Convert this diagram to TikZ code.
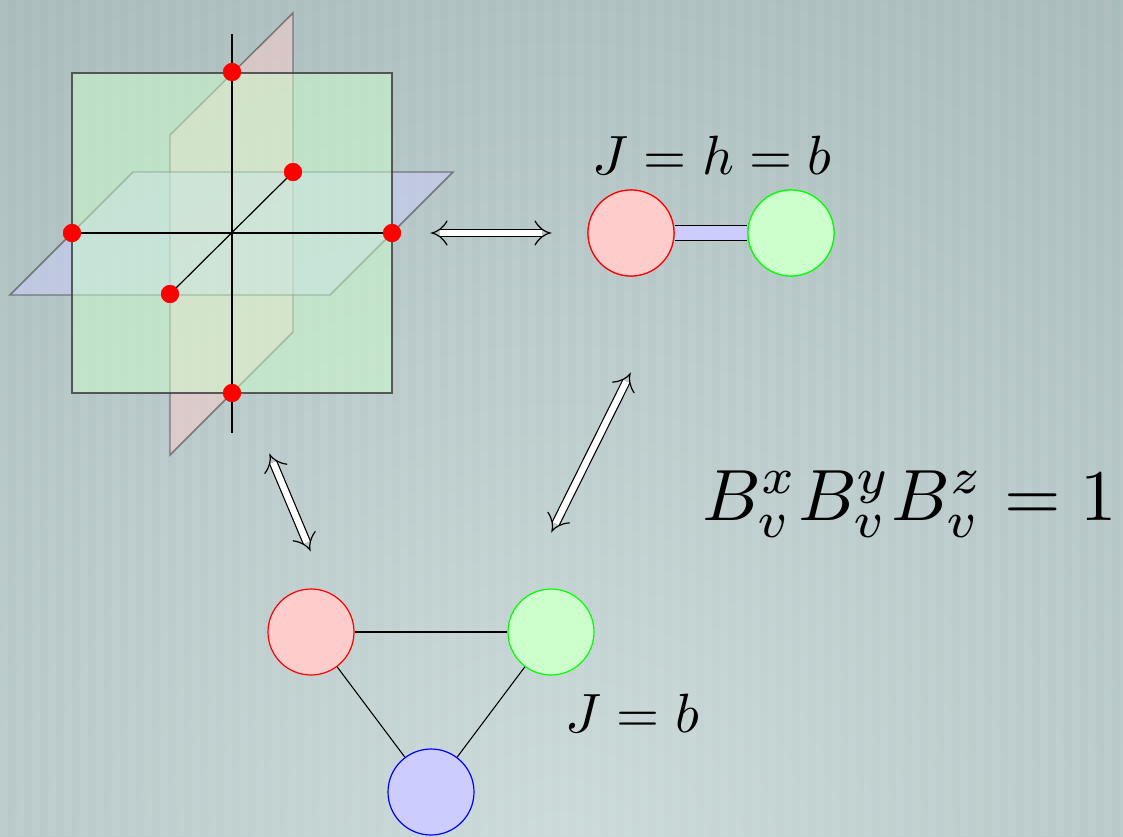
\documentclass[tikz,border=0pt]{standalone}
\usetikzlibrary{calc}
\definecolor{bgin}{RGB}{204,218,218}
\definecolor{bgout}{RGB}{136,158,158}
\pgfdeclareradialshading{bgshade}{\pgfpoint{0bp}{0bp}}{color(0bp)=(bgin); color(50bp)=(bgout)}
\tikzset{
  plane/.style={draw=black!75, draw opacity=0.6, line width=1.1pt, fill opacity=0.5},
  axis/.style={draw=black, line width=0.9pt},
  dot/.style={circle, fill=red, inner sep=0pt, minimum size=13.5pt},
  ball/.style={circle, inner sep=0pt, minimum size=64.5pt, line width=0.9pt},
  band/.style={double=white, double distance=4.8pt, line width=0.9pt, shorten <=6pt, shorten >=6pt},
  barb/.pic={\draw[line width=0.9pt, line cap=round] (-15,-12) .. controls (-11,-5) and (-5,-1) .. (0,0) .. controls (-5,1) and (-11,5) .. (-15,12);},
  bond/.style={draw=black, line width=0.8pt},
  big/.style={inner sep=0pt, anchor=base}
}
\begin{document}
\begin{tikzpicture}[x=0.75pt,y=-0.75pt]
\useasboundingbox (0,0) rectangle (1123,836);
% background
\begin{scope}
\clip (0,0) rectangle (1123,836);
\shade[shading=bgshade] (-440,-140) rectangle (1560,1860);
\foreach \i in {0,...,70} {
  \fill[white, opacity=0.06] (\i*16,0) rectangle ++(8,836);
}
\end{scope}
% planes
\fill[plane, fill=red!20] (170,135) -- (293,13) -- (293,332) -- (170,455) -- cycle;
\fill[plane, fill=blue!20] (10,295) -- (133,172) -- (453,172) -- (330,295) -- cycle;
\fill[plane, fill=green!20] (72,73) rectangle (392,393);
\draw[plane, fill opacity=0] (72,73) rectangle (392,393);
% dots
\node[dot] (top) at (232,72) {};
\node[dot] (bot) at (232,393) {};
\node[dot] (lft) at (72,233) {};
\node[dot] (rgt) at (392,233) {};
\node[dot] (frt) at (170,294) {};
\node[dot] (bck) at (293,172) {};
\coordinate (ztop) at (232,34);
\coordinate (zbot) at (232,433);
\draw[axis] (ztop) -- (top.north);
\draw[axis] (top.south) -- (bot.north);
\draw[axis] (bot.south) -- (zbot);
\draw[axis] (lft.east) -- (rgt.west);
\draw[axis] (frt.center) -- (bck.center);
\node[dot] at (top) {};
\node[dot] at (bot) {};
\node[dot] at (lft) {};
\node[dot] at (rgt) {};
\node[dot] at (frt) {};
\node[dot] at (bck) {};
% two-site
\node[ball, draw=red, fill=red!20] (r1) at (631,233) {};
\node[ball, draw=green, fill=green!20] (g1) at (791,233) {};
\draw[double=blue!20, double distance=10.5pt, line width=0.9pt] (r1.east) -- (g1.west);
\node[ball, draw=red, fill=red!20] at (r1) {};
\node[ball, draw=green, fill=green!20] at (g1) {};
\node[big, scale=4.15] (lab1) at (712,174) {$J=h=b$};
% triangle
\node[ball, draw=red, fill=red!20] (r2) at (311,632) {};
\node[ball, draw=green, fill=green!20] (g2) at (551,632) {};
\node[ball, draw=blue, fill=blue!20] (b2) at (431,792) {};
\draw[bond] (r2) -- (g2);
\draw[bond] (g2) -- (b2);
\draw[bond] (b2) -- (r2);
\node[big, scale=4.15] (lab2) at (632,732) {$J=b$};
\node[big, scale=5.45] (lab3) at (910,520) {$B_v^xB_v^yB_v^z=1$};
% arrows
\coordinate (a1s) at (432,233);
\coordinate (a1e) at (550,233);
\coordinate (a2s) at (630,374);
\coordinate (a2e) at (552,531);
\coordinate (a3s) at (270,455);
\coordinate (a3e) at (310,550);
\draw[band] (a1s) -- (a1e);
\draw[band] (a2s) -- (a2e);
\draw[band] (a3s) -- (a3e);
\pic[rotate=180] at (a1s) {barb};
\pic at (a1e) {barb};
\pic[rotate=63.6] at (a2s) {barb};
\pic[rotate=243.6] at (a2e) {barb};
\pic[rotate=112.8] at (a3s) {barb};
\pic[rotate=292.8] at (a3e) {barb};
\end{tikzpicture}
\end{document}
